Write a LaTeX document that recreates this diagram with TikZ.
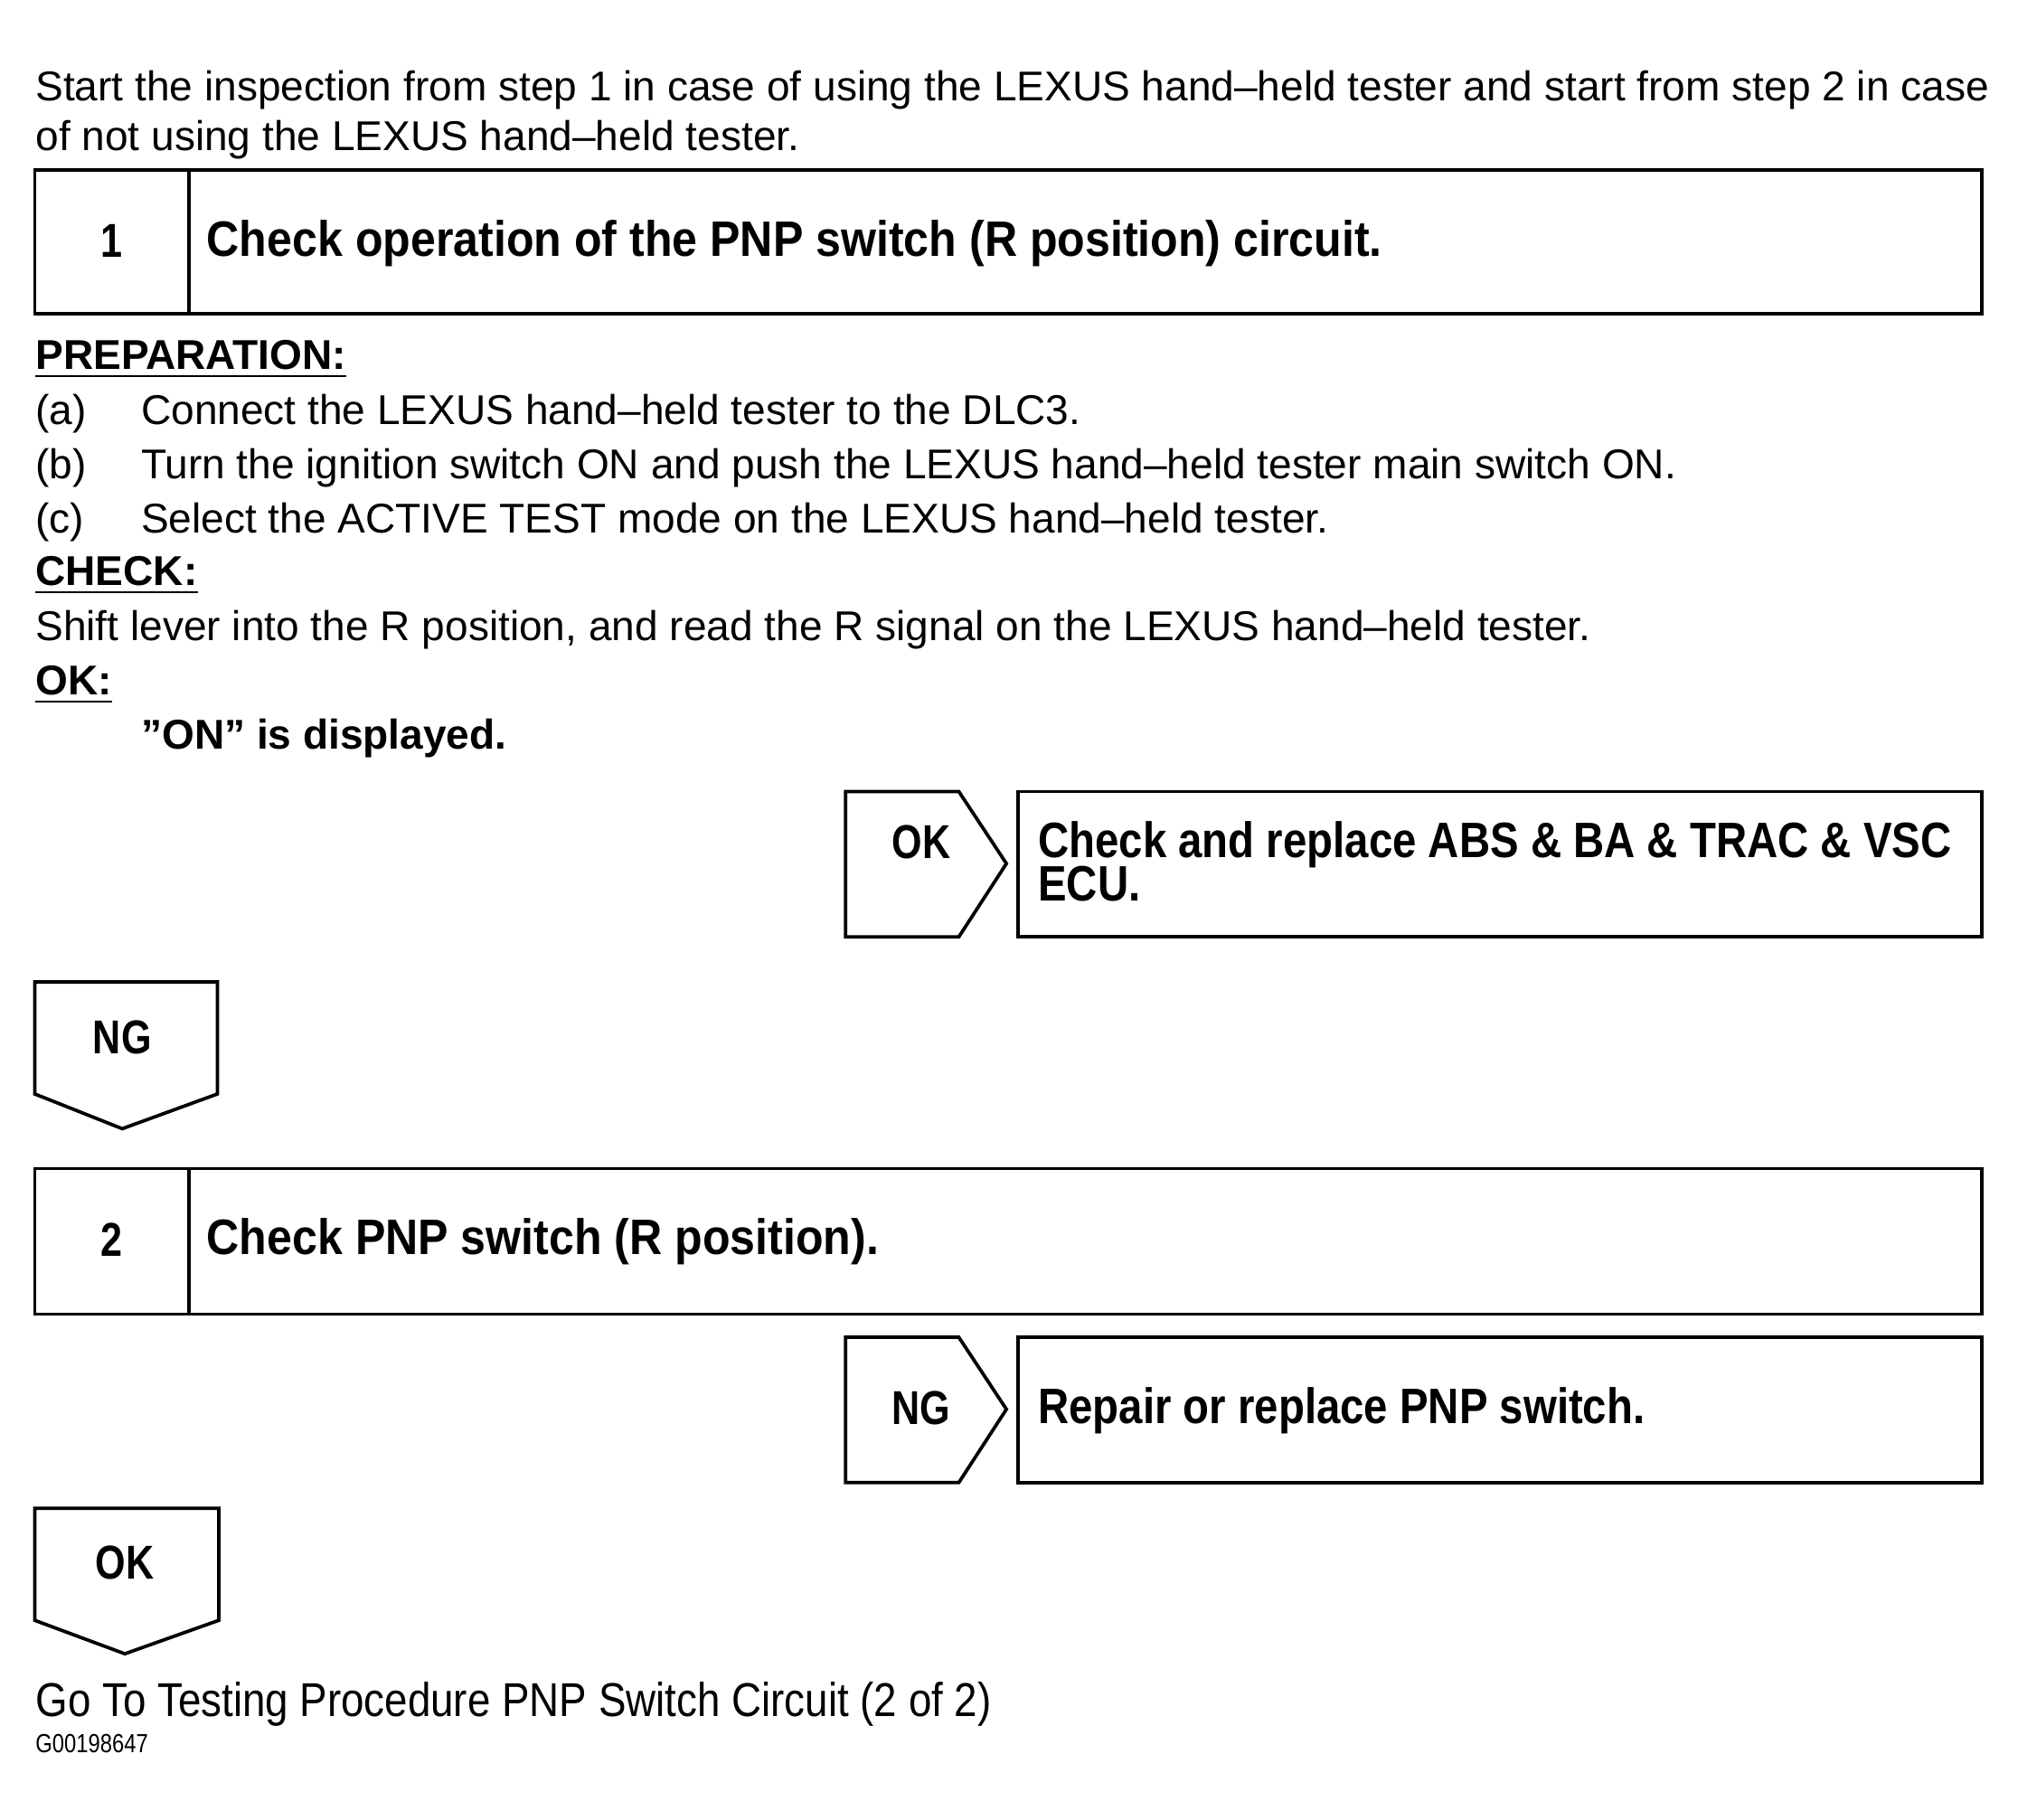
\documentclass[tikz,border=0pt]{standalone}
\usepackage{fontspec}
\setmainfont{Liberation Sans}
\newfontfamily\narrowfont[FakeStretch=0.82]{Liberation Sans}
\newfontfamily\titlefont[FakeStretch=0.91]{Liberation Sans}
\newfontfamily\resfont[FakeStretch=0.86]{Liberation Sans}
\newfontfamily\gotofont[FakeStretch=0.87]{Liberation Sans}
\usetikzlibrary{positioning}

\tikzset{
  box/.style={line width=0.75pt},
  txt/.style={anchor=base west, inner sep=0pt, font=\fontsize{9.2}{11}\selectfont},
  head/.style={txt, font=\fontsize{9.2}{11}\selectfont\bfseries},
  title/.style={anchor=base west, inner sep=0pt, font=\fontsize{11}{13}\selectfont\titlefont\bfseries},
  result/.style={anchor=base west, inner sep=0pt, align=left, font=\fontsize{11}{9.1}\selectfont\resfont\bfseries},
  tag/.style={inner sep=0pt, font=\fontsize{10.5}{12}\selectfont\narrowfont\bfseries},
}

\begin{document}
\begin{tikzpicture}[x=0.01cm, y=-0.01cm]
  \useasboundingbox (0,0) rectangle (1568,1414);

  % intro
  \node[txt] (intro1) at (27,78) {Start the inspection from step 1 in case of using the LEXUS hand–held tester and start from step 2 in case};
  \node[txt] (intro2) at (27,117) {of not using the LEXUS hand–held tester.};

  % step 1
  \draw[box] (27,132) rectangle (1540,244);
  \draw[box] (147,132) -- (147,244);
  \node[tag] (num1) at (87,187) {1};
  \node[title] (step1) at (160,199) {Check operation of the PNP switch (R position) circuit.};

  \node[head] (prep) at (27,287) {\underline{PREPARATION:}};
  \node[txt] (pa) at (27,330) {(a)};
  \node[txt] at (109,330) {Connect the LEXUS hand–held tester to the DLC3.};
  \node[txt] (pb) at (27,372) {(b)};
  \node[txt] at (109,372) {Turn the ignition switch ON and push the LEXUS hand–held tester main switch ON.};
  \node[txt] (pc) at (27,414) {(c)};
  \node[txt] at (109,414) {Select the ACTIVE TEST mode on the LEXUS hand–held tester.};
  \node[head] (check) at (27,455) {\underline{CHECK:}};
  \node[txt] (shift) at (27,498) {Shift lever into the R position, and read the R signal on the LEXUS hand–held tester.};
  \node[head] (ok) at (27,540) {\underline{OK:}};
  \node[head] (disp) at (109,582) {”ON” is displayed.};

  % OK -> replace ECU
  \draw[box] (657,615) -- (745,615) -- (782,671) -- (745,728) -- (657,728) -- cycle;
  \node[tag] (ok1) at (716,654) {OK};
  \draw[box] (791,615) rectangle (1540,728);
  \node[result] (ecu) at (806,700) {Check and replace ABS \& BA \& TRAC \& VSC\\[-1.4pt]ECU.};

  % NG down
  \draw[box] (27,763) -- (169,763) -- (169,850) -- (95,877) -- (27,850) -- cycle;
  \node[tag] (ng1) at (95,806) {NG};

  % step 2
  \draw[box] (27,908) rectangle (1540,1021);
  \draw[box] (147,908) -- (147,1021);
  \node[tag] (num2) at (87,963) {2};
  \node[title] (step2) at (160,975) {Check PNP switch (R position).};

  % NG -> repair
  \draw[box] (657,1039) -- (745,1039) -- (782,1095) -- (745,1152) -- (657,1152) -- cycle;
  \node[tag] (ng2) at (716,1094) {NG};
  \draw[box] (791,1039) rectangle (1540,1152);
  \node[result] (repair) at (806,1106) {Repair or replace PNP switch.};

  % OK down
  \draw[box] (27,1172) -- (170,1172) -- (170,1259) -- (97,1285) -- (27,1259) -- cycle;
  \node[tag] (ok2) at (97,1214) {OK};

  \node[anchor=base west, inner sep=0pt, font=\fontsize{10.5}{12}\selectfont\gotofont] (goto) at (27,1334) {Go To Testing Procedure PNP Switch Circuit (2 of 2)};
  \node[anchor=base west, inner sep=0pt, font=\fontsize{5.8}{6}\selectfont\narrowfont] (fig) at (27,1362) {G00198647};
\end{tikzpicture}
\end{document}
